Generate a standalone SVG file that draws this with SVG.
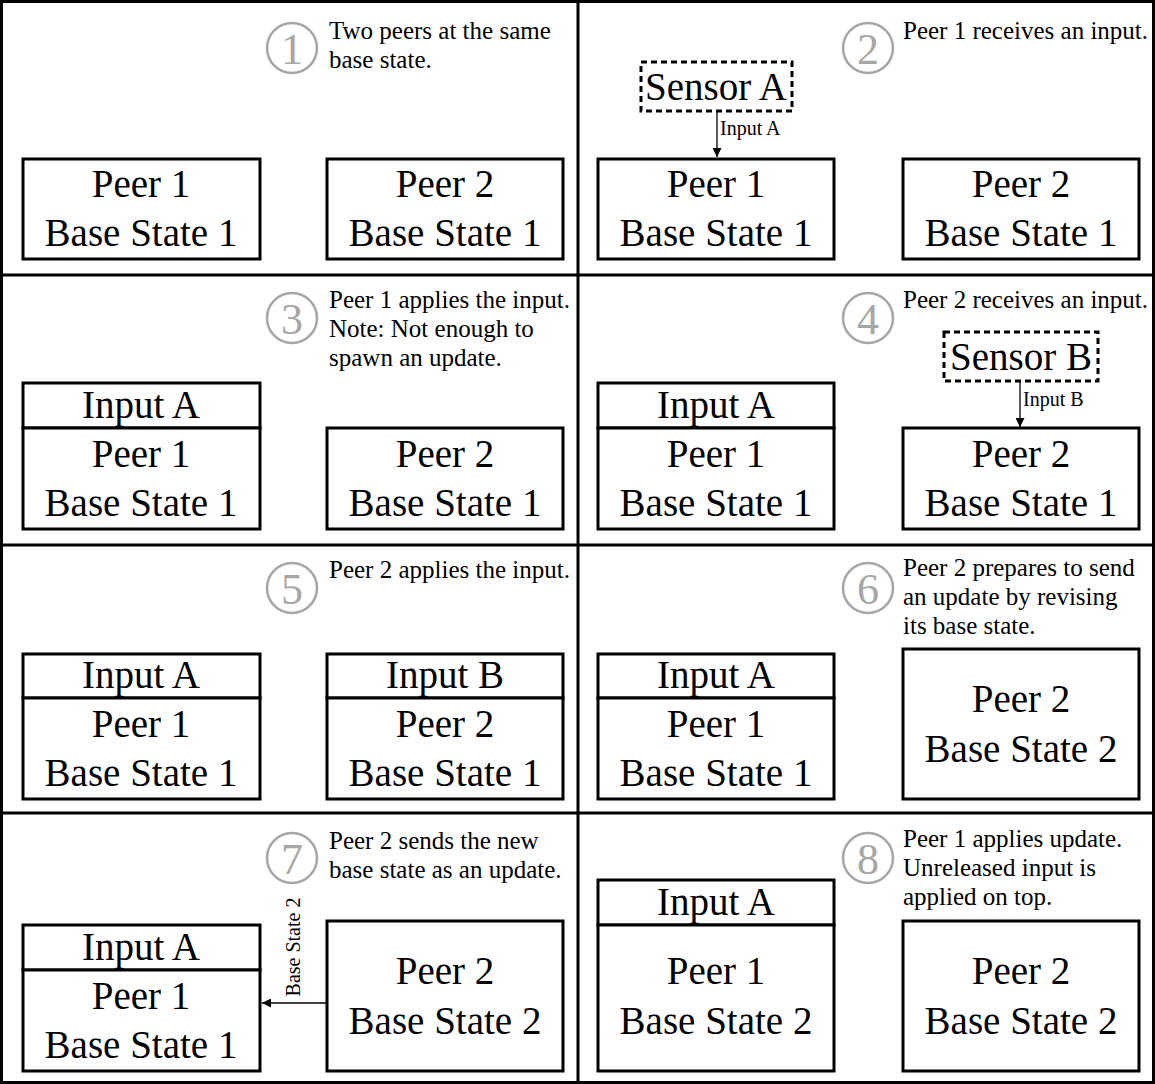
<svg xmlns="http://www.w3.org/2000/svg" width="1155" height="1084" viewBox="0 0 1155 1084">
<defs>
<style>
.frame{fill:none;stroke:#000;stroke-width:3}
.box{fill:#fff;stroke:#000;stroke-width:3}
.dash{fill:#fff;stroke:#000;stroke-width:3;stroke-dasharray:6 4}
.num{fill:#fff;stroke:#a6a6a6;stroke-width:2.5}
.numt{font-family:"Liberation Serif",serif;font-size:44px;fill:#a6a6a6;text-anchor:middle}
.note{font-family:"Liberation Serif",serif;font-size:25px;fill:#000}
.big{font-family:"Liberation Serif",serif;font-size:39px;fill:#000;text-anchor:middle}
.lbl{font-family:"Liberation Serif",serif;font-size:20px;fill:#000}
.lblc{font-family:"Liberation Serif",serif;font-size:20px;fill:#000;text-anchor:middle}
.conn{stroke:#000;stroke-width:1.3;fill:none}
</style>
<marker id="ah" viewBox="0 0 10 10" refX="10" refY="5" markerWidth="9" markerHeight="9" markerUnits="userSpaceOnUse" orient="auto">
<path d="M0,0 L10,5 L0,10 z" fill="#000"/>
</marker>
</defs>
<rect x="0" y="0" width="1155" height="1084" fill="#fff"/>
<g id="frame">
<rect class="frame" x="1.5" y="1.5" width="1152" height="1081"/>
<line class="frame" x1="578" y1="0" x2="578" y2="1084"/>
<line class="frame" x1="0" y1="275" x2="1155" y2="275"/>
<line class="frame" x1="0" y1="545" x2="1155" y2="545"/>
<line class="frame" x1="0" y1="813" x2="1155" y2="813"/>
</g>

<!-- Panel 1 -->
<g id="step1">
<circle class="num" cx="292" cy="48" r="25"/>
<text class="numt" x="292" y="64">1</text>
<text class="note" x="329" y="39">Two peers at the same</text>
<text class="note" x="329" y="68">base state.</text>
</g>
<g id="p1-peer1"><rect class="box" x="23" y="159" width="237" height="100"/><text class="big" x="141" y="197">Peer 1</text><text class="big" x="141" y="246">Base State 1</text></g>
<g id="p1-peer2"><rect class="box" x="327" y="159" width="236" height="100"/><text class="big" x="445" y="197">Peer 2</text><text class="big" x="445" y="246">Base State 1</text></g>

<!-- Panel 2 -->
<g id="step2">
<circle class="num" cx="868" cy="48" r="25"/>
<text class="numt" x="868" y="64">2</text>
<text class="note" x="903" y="39">Peer 1 receives an input.</text>
</g>
<g id="p2-sensorA"><rect class="dash" x="641" y="62" width="151" height="49"/><text class="big" x="716" y="100">Sensor A</text></g>
<g id="p2-peer1"><rect class="box" x="598" y="159" width="236" height="100"/><text class="big" x="716" y="197">Peer 1</text><text class="big" x="716" y="246">Base State 1</text></g>
<g id="p2-peer2"><rect class="box" x="903" y="159" width="236" height="100"/><text class="big" x="1021" y="197">Peer 2</text><text class="big" x="1021" y="246">Base State 1</text></g>

<!-- Panel 3 -->
<g id="step3">
<circle class="num" cx="292" cy="318" r="25"/>
<text class="numt" x="292" y="334">3</text>
<text class="note" x="329" y="308">Peer 1 applies the input.</text>
<text class="note" x="329" y="337">Note: Not enough to</text>
<text class="note" x="329" y="366">spawn an update.</text>
</g>
<g id="p3-inputA"><rect class="box" x="23" y="383" width="237" height="45"/><text class="big" x="141" y="418">Input A</text></g>
<g id="p3-peer1"><rect class="box" x="23" y="428" width="237" height="101"/><text class="big" x="141" y="467">Peer 1</text><text class="big" x="141" y="516">Base State 1</text></g>
<g id="p3-peer2"><rect class="box" x="327" y="428" width="236" height="101"/><text class="big" x="445" y="467">Peer 2</text><text class="big" x="445" y="516">Base State 1</text></g>

<!-- Panel 4 -->
<g id="step4">
<circle class="num" cx="868" cy="318" r="25"/>
<text class="numt" x="868" y="334">4</text>
<text class="note" x="903" y="308">Peer 2 receives an input.</text>
</g>
<g id="p4-sensorB"><rect class="dash" x="944" y="332" width="154" height="49"/><text class="big" x="1021" y="370">Sensor B</text></g>
<g id="p4-inputA"><rect class="box" x="598" y="383" width="236" height="45"/><text class="big" x="716" y="418">Input A</text></g>
<g id="p4-peer1"><rect class="box" x="598" y="428" width="236" height="101"/><text class="big" x="716" y="467">Peer 1</text><text class="big" x="716" y="516">Base State 1</text></g>
<g id="p4-peer2"><rect class="box" x="903" y="428" width="236" height="101"/><text class="big" x="1021" y="467">Peer 2</text><text class="big" x="1021" y="516">Base State 1</text></g>

<!-- Panel 5 -->
<g id="step5">
<circle class="num" cx="292" cy="588" r="25"/>
<text class="numt" x="292" y="604">5</text>
<text class="note" x="329" y="578">Peer 2 applies the input.</text>
</g>
<g id="p5-inputA"><rect class="box" x="23" y="654" width="237" height="44"/><text class="big" x="141" y="688">Input A</text></g>
<g id="p5-peer1"><rect class="box" x="23" y="698" width="237" height="101"/><text class="big" x="141" y="737">Peer 1</text><text class="big" x="141" y="786">Base State 1</text></g>
<g id="p5-inputB"><rect class="box" x="327" y="654" width="236" height="44"/><text class="big" x="445" y="688">Input B</text></g>
<g id="p5-peer2"><rect class="box" x="327" y="698" width="236" height="101"/><text class="big" x="445" y="737">Peer 2</text><text class="big" x="445" y="786">Base State 1</text></g>

<!-- Panel 6 -->
<g id="step6">
<circle class="num" cx="868" cy="588" r="25"/>
<text class="numt" x="868" y="604">6</text>
<text class="note" x="903" y="576">Peer 2 prepares to send</text>
<text class="note" x="903" y="605">an update by revising</text>
<text class="note" x="903" y="634">its base state.</text>
</g>
<g id="p6-inputA"><rect class="box" x="598" y="654" width="236" height="44"/><text class="big" x="716" y="688">Input A</text></g>
<g id="p6-peer1"><rect class="box" x="598" y="698" width="236" height="101"/><text class="big" x="716" y="737">Peer 1</text><text class="big" x="716" y="786">Base State 1</text></g>
<g id="p6-peer2"><rect class="box" x="903" y="649" width="236" height="150"/><text class="big" x="1021" y="712">Peer 2</text><text class="big" x="1021" y="762">Base State 2</text></g>

<!-- Panel 7 -->
<g id="step7">
<circle class="num" cx="292" cy="858" r="25"/>
<text class="numt" x="292" y="874">7</text>
<text class="note" x="329" y="849">Peer 2 sends the new</text>
<text class="note" x="329" y="878">base state as an update.</text>
</g>
<g id="p7-inputA"><rect class="box" x="23" y="925" width="237" height="45"/><text class="big" x="141" y="960">Input A</text></g>
<g id="p7-peer1"><rect class="box" x="23" y="970" width="237" height="101"/><text class="big" x="141" y="1009">Peer 1</text><text class="big" x="141" y="1058">Base State 1</text></g>
<g id="p7-peer2"><rect class="box" x="327" y="921" width="236" height="150"/><text class="big" x="445" y="984">Peer 2</text><text class="big" x="445" y="1034">Base State 2</text></g>

<!-- Panel 8 -->
<g id="step8">
<circle class="num" cx="868" cy="858" r="25"/>
<text class="numt" x="868" y="874">8</text>
<text class="note" x="903" y="847">Peer 1 applies update.</text>
<text class="note" x="903" y="876">Unreleased input is</text>
<text class="note" x="903" y="905">applied on top.</text>
</g>
<g id="p8-inputA"><rect class="box" x="598" y="880" width="236" height="45"/><text class="big" x="716" y="915">Input A</text></g>
<g id="p8-peer1"><rect class="box" x="598" y="925" width="236" height="146"/><text class="big" x="716" y="984">Peer 1</text><text class="big" x="716" y="1034">Base State 2</text></g>
<g id="p8-peer2"><rect class="box" x="903" y="921" width="236" height="150"/><text class="big" x="1021" y="984">Peer 2</text><text class="big" x="1021" y="1034">Base State 2</text></g>

<!-- Connectors -->
<g id="connectors">
<line class="conn" x1="717" y1="111" x2="717" y2="157" marker-end="url(#ah)"/>
<text class="lbl" x="720" y="135">Input A</text>
<line class="conn" x1="1020" y1="381" x2="1020" y2="427" marker-end="url(#ah)"/>
<text class="lbl" x="1023" y="406">Input B</text>
<line class="conn" x1="327" y1="1003" x2="262" y2="1003" marker-end="url(#ah)"/>
<text class="lblc" transform="translate(300,947) rotate(-90)">Base State 2</text>
</g>
</svg>
